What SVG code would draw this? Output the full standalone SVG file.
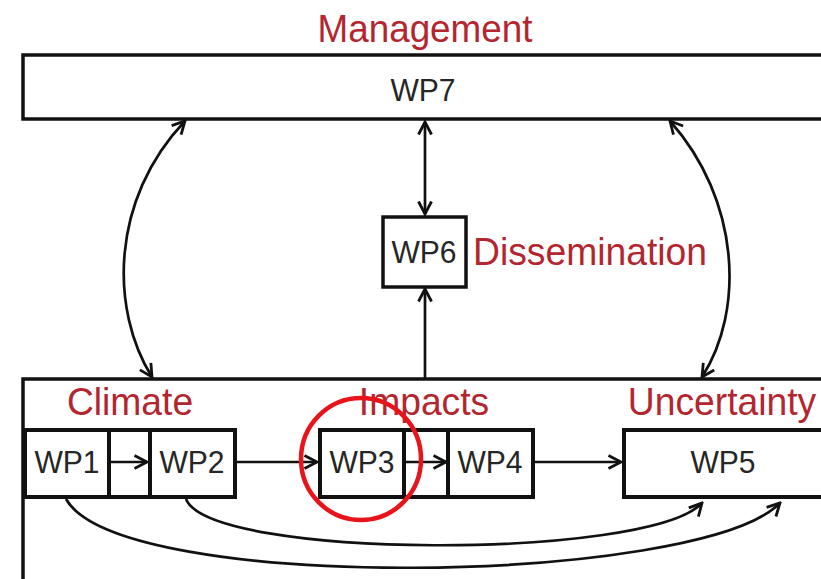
<svg xmlns="http://www.w3.org/2000/svg" width="821" height="579" viewBox="0 0 821 579">
<defs>
<style>
.box{fill:#fff;stroke:#111;stroke-width:3.5}
.rbox{fill:#fff;stroke:#111;stroke-width:4}
.wp{font-family:"Liberation Sans",Arial,sans-serif;font-size:32px;fill:#262626;text-anchor:middle}
.lbl{font-family:"Liberation Sans",Arial,sans-serif;font-size:38px;fill:#b3262f;text-anchor:middle}
.con{fill:none;stroke:#111;stroke-width:2.7}
</style>
<marker id="ah" markerUnits="userSpaceOnUse" viewBox="0 0 16 16" markerWidth="16" markerHeight="16" refX="14" refY="8" orient="auto-start-reverse">
<path d="M1.5,1.5 L14,8 L1.5,14.5" fill="none" stroke="#111" stroke-width="2.8"/>
</marker>
</defs>
<rect width="821" height="579" fill="#fff"/>
<g id="management">
<text class="lbl" transform="translate(425,42) scale(0.97,1)">Management</text>
</g>
<g id="wp7">
<rect class="box" x="23" y="55" width="812" height="64"/>
<text class="wp" transform="translate(423,101) scale(0.94,1)">WP7</text>
</g>
<g id="container">
<rect class="box" x="23" y="379" width="812" height="230"/>
<text class="lbl" transform="translate(130,415) scale(0.98,1)">Climate</text>
<text class="lbl" transform="translate(424,415) scale(0.98,1)">Impacts</text>
<text class="lbl" transform="translate(722,415) scale(0.98,1)">Uncertainty</text>
</g>
<g id="wp6">
<rect class="box" x="383" y="217" width="83" height="70"/>
<text class="wp" transform="translate(424,263) scale(0.94,1)">WP6</text>
<text class="lbl" transform="translate(590,265) scale(0.98,1)">Dissemination</text>
</g>
<g id="frame12">
<rect class="rbox" x="25" y="430" width="210" height="67"/>
</g>
<g id="wp1">
<rect class="rbox" x="25" y="430" width="84" height="67"/>
<text class="wp" transform="translate(67,473) scale(0.94,1)">WP1</text>
</g>
<g id="wp2">
<rect class="rbox" x="150" y="430" width="85" height="67"/>
<text class="wp" transform="translate(192,473) scale(0.94,1)">WP2</text>
</g>
<g id="frame34">
<rect class="rbox" x="320" y="430" width="213" height="67"/>
</g>
<g id="wp3">
<rect class="rbox" x="320" y="430" width="84" height="67"/>
<text class="wp" transform="translate(362,473) scale(0.94,1)">WP3</text>
</g>
<g id="wp4">
<rect class="rbox" x="448" y="430" width="85" height="67"/>
<text class="wp" transform="translate(490,473) scale(0.94,1)">WP4</text>
</g>
<g id="wp5">
<rect class="rbox" x="624" y="430" width="210" height="67"/>
<text class="wp" transform="translate(723,473) scale(0.94,1)">WP5</text>
</g>
<g id="connectors">
<line class="con" x1="425" y1="122" x2="425" y2="214" marker-start="url(#ah)" marker-end="url(#ah)"/>
<line class="con" x1="425" y1="378" x2="425" y2="289" marker-end="url(#ah)"/>
<path class="con" d="M185,121 C110,200 110,310 152,377" marker-start="url(#ah)" marker-end="url(#ah)"/>
<path class="con" d="M670,121 C740,200 745,310 702,377" marker-start="url(#ah)" marker-end="url(#ah)"/>
<line class="con" x1="111" y1="462" x2="147" y2="462" marker-end="url(#ah)"/>
<line class="con" x1="237" y1="462" x2="317" y2="462" marker-end="url(#ah)"/>
<line class="con" x1="406" y1="462" x2="446" y2="462" marker-end="url(#ah)"/>
<line class="con" x1="535" y1="462" x2="621" y2="462" marker-end="url(#ah)"/>
<path class="con" d="M66,499 C120,595 700,585 780,503" marker-end="url(#ah)"/>
<path class="con" d="M186,499 C210,560 650,560 702,503" marker-end="url(#ah)"/>
</g>
<g id="highlight">
<ellipse cx="361" cy="459" rx="60" ry="61" fill="none" stroke="#e8141b" stroke-width="4.5"/>
</g>
</svg>
